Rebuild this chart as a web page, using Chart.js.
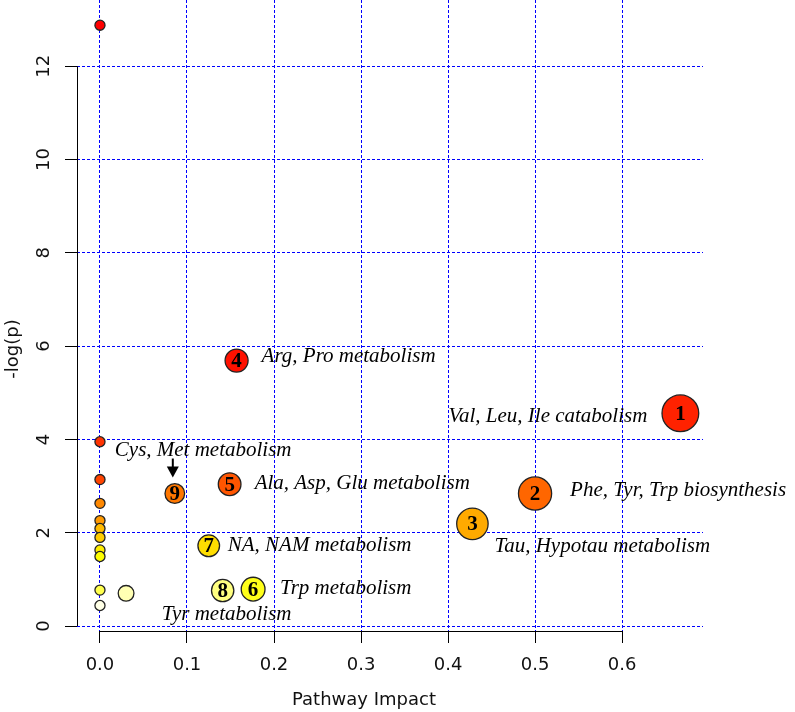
<!DOCTYPE html>
<html>
<head>
<meta charset="utf-8">
<script src="https://cdn.jsdelivr.net/npm/chart.js@4"></script>
<style>
  body { margin: 0; background: #fff; }
  canvas { display: block; }
</style>
</head>
<body>
<canvas id="ctx1" width="795" height="712"></canvas>
<script>
// pathway impact (x) and -log(p) (y); the first 9 are the numbered pathways
const impact = [0.667, 0.500, 0.428, 0.157, 0.149, 0.176, 0.125, 0.141, 0.086,
                0, 0, 0, 0, 0, 0, 0, 0, 0, 0, 0, 0.030];
const logP = [4.56, 2.84, 2.19, 5.69, 3.04, 0.79, 1.72, 0.76, 2.84,
              12.88, 3.95, 3.14, 2.63, 2.26, 2.09, 1.90, 1.63, 1.49, 0.77, 0.44, 0.70];
const markNo = ['1', '2', '3', '4', '5', '6', '7', '8', '9'];
const pathNames = ['Val, Leu, Ile catabolism', 'Phe, Tyr, Trp biosynthesis', 'Tau, Hypotau metabolism',
                   'Arg, Pro metabolism', 'Ala, Asp, Glu metabolism', 'Trp metabolism',
                   'NA, NAM metabolism', 'Tyr metabolism', 'Cys, Met metabolism'];
const xTicks = [0, 0.1, 0.2, 0.3, 0.4, 0.5, 0.6];
const yTicks = [0, 2, 4, 6, 8, 10, 12];
const xRange = [-0.0264, 0.693];
const yRange = [-0.107, 13.42];

// where each name sits relative to its circle (pixels)
const nameSpots = [
    { dx: -33, dy: 3, align: 'right' },
    { dx: 35, dy: -3, align: 'left' },
    { dx: 22, dy: 23, align: 'left' },
    { dx: 25, dy: -4, align: 'left' },
    { dx: 25, dy: -1, align: 'left' },
    { dx: 27, dy: -1, align: 'left' },
    { dx: 19, dy: 0, align: 'left' },
    { dx: 4, dy: 24, align: 'center' },
    { dx: -60, dy: -43, align: 'left' },
];

// R heat.colors()
const hsv = (h, s, v) => {
    const i = Math.floor(h * 6), f = h * 6 - i;
    const p = v * (1 - s), q = v * (1 - f * s), t = v * (1 - (1 - f) * s);
    const rgb = [[v, t, p], [q, v, p], [p, v, t], [p, q, v], [t, p, v], [v, p, q]][i % 6];
    return 'rgb(' + rgb.map(c => Math.round(c * 255)).join(',') + ')';
}
const heatColors = (n) => {
    const j = Math.floor(n / 4), i = n - j;
    const out = [];
    for (let k = 0; k < i; k++) out.push(hsv(k / (i - 1) / 6, 1, 1));
    for (let k = 0; k < j; k++) out.push(hsv(1 / 6, (1 - 1 / (2 * j)) - k * (1 - 1 / j) / Math.max(j - 1, 1), 1));
    return out;
}
const order = logP.map((v, i) => i).sort((a, b) => logP[b] - logP[a]);
const heat = heatColors(logP.length);
const fill = [];
order.forEach((idx, rank) => { fill[idx] = heat[rank]; });

// circle radius in x units, same rule as MetaboAnalyst
const sq = impact.map(Math.sqrt);
const sqMin = Math.min(...sq), sqMax = Math.max(...sq);
const minR = (sqMax - sqMin) / 160, maxR = (sqMax - sqMin) / 40;
const radii = sq.map(s => minR + (maxR - minR) * (s - sqMin) / (sqMax - sqMin));

const points = impact.map((x, i) => ({ x, y: logP[i] }));

const axisFont = { family: 'DejaVu Sans', size: 18 };

const radiusPx = (c) => {
    const xs = c.chart.scales.x;
    return Math.abs(xs.getPixelForValue(radii[c.dataIndex]) - xs.getPixelForValue(0)) + 0.6;
}

const axesPlugin = {
    id: 'rAxes',
    beforeDatasetsDraw(chart) {
        const { ctx, chartArea, scales: { x, y } } = chart;
        ctx.save();
        ctx.strokeStyle = '#000';
        ctx.lineWidth = 1;
        ctx.beginPath();
        ctx.moveTo(x.getPixelForValue(xTicks[0]), chartArea.bottom + 0.5);
        ctx.lineTo(x.getPixelForValue(xTicks[xTicks.length - 1]), chartArea.bottom + 0.5);
        ctx.moveTo(chartArea.left + 0.5, y.getPixelForValue(yTicks[0]));
        ctx.lineTo(chartArea.left + 0.5, y.getPixelForValue(yTicks[yTicks.length - 1]));
        ctx.stroke();
        ctx.fillStyle = '#111';
        ctx.font = '18px "DejaVu Sans"';
        ctx.textAlign = 'center';
        ctx.textBaseline = 'middle';
        ctx.fillText('Pathway Impact', 364, 700);
        ctx.translate(13, 349);
        ctx.rotate(-Math.PI / 2);
        ctx.fillText('-log(p)', 0, 0);
        ctx.restore();
    }
};

const labelPlugin = {
    id: 'pathLabels',
    afterDatasetsDraw(chart) {
        const { ctx } = chart;
        const meta = chart.getDatasetMeta(0);
        ctx.save();
        ctx.fillStyle = '#000';
        ctx.textBaseline = 'middle';
        markNo.forEach((no, i) => {
            const pt = meta.data[i];
            ctx.font = 'bold 21px "Liberation Serif"';
            ctx.textAlign = 'center';
            ctx.fillText(no, pt.x, pt.y + 1);
            const spot = nameSpots[i];
            ctx.font = 'italic 21px "Liberation Serif"';
            ctx.textAlign = spot.align;
            ctx.fillText(pathNames[i], pt.x + spot.dx, pt.y + spot.dy);
        });
        // arrow to circle 9
        const p9 = meta.data[8];
        ctx.strokeStyle = '#000';
        ctx.lineWidth = 2;
        ctx.beginPath();
        ctx.moveTo(p9.x - 2, p9.y - 35);
        ctx.lineTo(p9.x - 2, p9.y - 24);
        ctx.stroke();
        ctx.beginPath();
        ctx.moveTo(p9.x - 8, p9.y - 27);
        ctx.lineTo(p9.x + 4, p9.y - 27);
        ctx.lineTo(p9.x - 2, p9.y - 16);
        ctx.closePath();
        ctx.fill();
        ctx.restore();
    }
};

new Chart(document.getElementById('ctx1'), {
    type: 'scatter',
    data: {
        datasets: [{
            data: points,
            backgroundColor: fill,
            borderColor: '#222',
            borderWidth: 1.3,
            pointRadius: radiusPx,
            pointHoverRadius: radiusPx,
        }]
    },
    options: {
        responsive: false,
        animation: false,
        devicePixelRatio: 1,
        layout: { padding: { left: 0, right: 92, top: 0, bottom: 0 } },
        plugins: { legend: { display: false }, tooltip: { enabled: false } },
        scales: {
            x: {
                type: 'linear',
                min: xRange[0],
                max: xRange[1],
                afterBuildTicks: (s) => { s.ticks = xTicks.map(value => ({ value })); },
                afterFit: (s) => { s.height = 81; s.paddingLeft = 0; s.paddingRight = 0; },
                grid: { color: '#0000ff', lineWidth: 1, tickColor: '#000', tickLength: 12, tickWidth: 1 },
                border: { display: false, dash: [3, 2] },
                ticks: {
                    autoSkip: false,
                    maxRotation: 0,
                    padding: 12,
                    color: '#111',
                    font: axisFont,
                    callback: (v) => v.toFixed(1),
                },
            },
            y: {
                type: 'linear',
                min: yRange[0],
                max: yRange[1],
                afterBuildTicks: (s) => { s.ticks = yTicks.map(value => ({ value })); },
                afterFit: (s) => { s.width = 77; s.paddingTop = 0; s.paddingBottom = 0; },
                grid: { color: '#0000ff', lineWidth: 1, tickColor: '#000', tickLength: 12, tickWidth: 1 },
                border: { display: false, dash: [3, 2] },
                ticks: {
                    autoSkip: false,
                    minRotation: 90,
                    maxRotation: 90,
                    crossAlign: 'center',
                    padding: 9,
                    color: '#111',
                    font: axisFont,
                    callback: (v) => String(v),
                },
            },
        },
    },
    plugins: [axesPlugin, labelPlugin],
});
</script>
</body>
</html>
